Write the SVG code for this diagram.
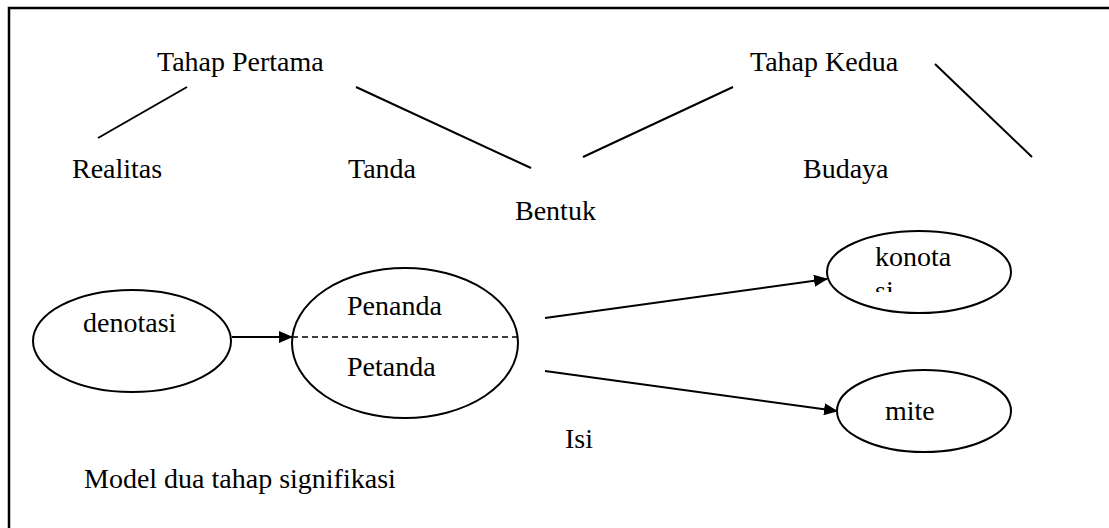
<svg xmlns="http://www.w3.org/2000/svg" width="1109" height="528" viewBox="0 0 1109 528" font-family="'Liberation Serif', 'DejaVu Serif', serif" font-size="28">
<style>
.ln{stroke:#000;stroke-width:2;fill:none}
.el{stroke:#000;stroke-width:2;fill:#fff}
</style>
<defs>
<marker id="ah" markerWidth="14" markerHeight="12" refX="13" refY="6" orient="auto" markerUnits="userSpaceOnUse">
<path d="M0,0 L14,6 L0,12 z" fill="#000"/>
</marker>
<clipPath id="kc"><rect x="830" y="240" width="170" height="52"/></clipPath>
</defs>
<rect x="9" y="8" width="1120" height="540" fill="none" stroke="#000" stroke-width="2.5"/>
<g id="labels" fill="#000">
<text x="157" y="71">Tahap Pertama</text>
<text x="750" y="71">Tahap Kedua</text>
<text x="72" y="178">Realitas</text>
<text x="348" y="178">Tanda</text>
<text x="515" y="220">Bentuk</text>
<text x="803" y="178">Budaya</text>
<text x="565" y="448">Isi</text>
<text x="84" y="488">Model dua tahap signifikasi</text>
</g>
<g id="connectors">
<line class="ln" x1="98" y1="138" x2="187" y2="87"/>
<line class="ln" x1="356" y1="87" x2="531" y2="168"/>
<line class="ln" x1="583" y1="157" x2="733" y2="87"/>
<line class="ln" x1="935" y1="64" x2="1032" y2="157"/>
<line class="ln" x1="232" y1="337" x2="292" y2="337" marker-end="url(#ah)"/>
<line class="ln" x1="545" y1="318" x2="827" y2="279" marker-end="url(#ah)"/>
<line class="ln" x1="545" y1="371" x2="837" y2="411" marker-end="url(#ah)"/>
</g>
<g id="denotasi">
<ellipse class="el" cx="132" cy="341" rx="99" ry="51"/>
<text x="83" y="332">denotasi</text>
</g>
<g id="penanda-petanda">
<ellipse class="el" cx="405" cy="343" rx="113" ry="75"/>
<line x1="292" y1="337" x2="519" y2="337" stroke="#000" stroke-width="1.5" stroke-dasharray="6,4"/>
<text x="347" y="315">Penanda</text>
<text x="347" y="376">Petanda</text>
</g>
<g id="konotasi">
<ellipse class="el" cx="919" cy="272" rx="92" ry="41"/>
<g clip-path="url(#kc)">
<text x="875" y="266">konota</text>
<text x="875" y="300">si</text>
</g>
</g>
<g id="mite">
<ellipse class="el" cx="924" cy="411" rx="87" ry="41"/>
<text x="885" y="420">mite</text>
</g>
</svg>
